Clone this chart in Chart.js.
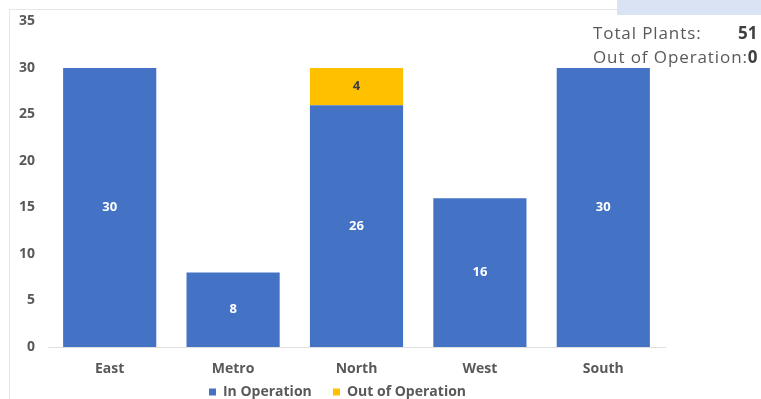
<!DOCTYPE html>
<html>
<head>
<meta charset="utf-8">
<script src="https://cdn.jsdelivr.net/npm/chart.js@4/dist/chart.umd.min.js"></script>
<style>
  body { margin: 0; background: #fff; }
  #wrap { position: relative; width: 761px; height: 399px; overflow: hidden; }
  #frame { position: absolute; left: 9px; top: 9px; width: 800px; height: 420px;
           border-left: 1px solid #e6e6e6; border-top: 1px solid #e6e6e6; }
  #band { position: absolute; left: 617px; top: 0; width: 144px; height: 15px; background: #dae3f3; }
  .info { position: absolute; left: 593px; font-family: "Open Sans", sans-serif; font-size: 17px;
          letter-spacing: 0.9px; line-height: 20px; color: #595959; white-space: nowrap; }
  .info b { color: #404040; }
  canvas { position: absolute; left: 0; top: 0; }
</style>
</head>
<body>
<div id="wrap">
  <div id="frame"></div>
  <canvas id="bar" width="761" height="399"></canvas>
  <div id="band"></div>
  <div class="info" style="top:23px">Total Plants:<b style="position:absolute;left:145px;letter-spacing:0">51</b></div>
  <div class="info" style="top:47px">Out of Operation:<b>0</b></div>
</div>
<script>
const labels = ["East", "Metro", "North", "West", "South"];
const inOperation = [30, 8, 26, 16, 30];
const outOfOperation = [0, 0, 4, 0, 0];

const barLabels = {
  id: "barLabels",
  beforeInit(chart) {
    // tighter legend box so it sits near the bottom edge
    const fit = chart.legend.fit;
    chart.legend.fit = function () {
      fit.bind(chart.legend)();
      this.height = 17;
    };
  },
  afterDatasetsDraw(chart) {
    const ctx = chart.ctx;
    ctx.save();
    ctx.font = "bold 13px 'Open Sans', sans-serif";
    ctx.textAlign = "center";
    ctx.textBaseline = "middle";
    chart.data.datasets.forEach((ds, i) => {
      chart.getDatasetMeta(i).data.forEach((bar, j) => {
        const v = ds.data[j];
        if (!v) return;
        const y = (bar.y + bar.base) / 2;
        ctx.fillStyle = i === 0 ? "#ffffff" : "#404040";
        ctx.fillText(v, bar.x, y);
      });
    });
    ctx.restore();
  }
};

const bar = document.getElementById("bar");
new Chart(bar, {
  type: "bar",
  data: {
    labels: labels,
    datasets: [
      {
        label: "In Operation",
        data: inOperation,
        backgroundColor: "#4472c4",
        categoryPercentage: 1,
        barPercentage: 0.755,
      },
      {
        label: "Out of Operation",
        data: outOfOperation,
        backgroundColor: "#ffc000",
        categoryPercentage: 1,
        barPercentage: 0.755,
      },
    ],
  },
  options: {
    responsive: false,
    animation: false,
    layout: { padding: { left: 10, right: 96, top: 13, bottom: 0 } },
    plugins: {
      tooltip: { enabled: false },
      legend: {
        position: "bottom",
        labels: {
          boxWidth: 7,
          boxHeight: 7,
          padding: 3,
          color: "#595959",
          font: { family: "'Open Sans', sans-serif", size: 14, weight: "bold" },
          generateLabels(chart) {
            const items = Chart.defaults.plugins.legend.labels.generateLabels(chart);
            const last = items.length - 1;
            return items.map((it, i) => Object.assign(it, { text: it.text + (i < last ? "     " : "") }));
          },
        },
      },
    },
    scales: {
      x: {
        stacked: true,
        grid: { display: false },
        border: { color: "#e0e0e0" },
        afterFit(scale) { scale.height = 35; },
        ticks: {
          color: "#595959",
          padding: 6,
          font: { family: "'Open Sans', sans-serif", size: 14, weight: "bold" },
        },
      },
      y: {
        stacked: true,
        min: 0,
        max: 35,
        grid: { display: false, drawTicks: false },
        border: { display: false },
        afterFit(scale) { scale.width = 38; },
        ticks: {
          stepSize: 5,
          color: "#595959",
          padding: 13,
          font: { family: "'Open Sans', sans-serif", size: 14, weight: "bold" },
        },
      },
    },
  },
  plugins: [barLabels],
});
</script>
</body>
</html>
